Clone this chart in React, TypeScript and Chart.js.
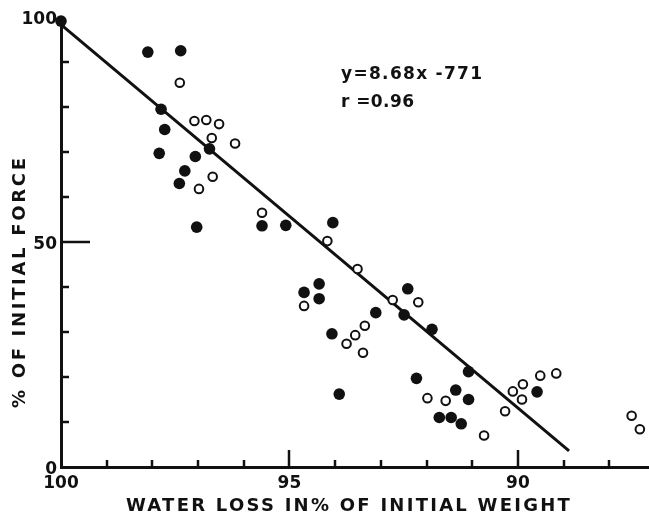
import React, { useEffect, useRef } from 'react';
import { Chart, registerables } from 'chart.js';

Chart.register(...registerables);

// ---- data ----
const FILLED_X = [100, 98.1, 97.38, 97.81, 97.73, 96.75, 97.85, 97.06, 97.29, 97.41, 97.03, 95.6, 95.08, 94.05, 94.68, 94.35, 94.35, 94.07, 92.41, 93.11, 92.49, 91.88, 91.08, 92.22, 93.91, 91.36, 91.08, 91.72, 91.46, 91.24, 89.58];
const FILLED_Y = [99.1, 92.2, 92.5, 79.5, 75.0, 70.7, 69.7, 69.0, 65.8, 63.0, 53.3, 53.6, 53.7, 54.3, 38.8, 40.7, 37.4, 29.6, 39.6, 34.3, 33.8, 30.6, 21.2, 19.7, 16.2, 17.1, 15.0, 11.0, 11.0, 9.6, 16.7];
const OPEN_X = [97.4, 97.08, 96.82, 96.54, 96.7, 96.19, 96.68, 96.98, 95.6, 94.17, 94.68, 93.51, 92.74, 92.18, 93.35, 93.56, 93.75, 93.39, 91.98, 91.58, 90.74, 90.28, 90.11, 89.89, 89.91, 89.51, 89.16, 87.51, 87.33];
const OPEN_Y = [85.4, 76.9, 77.1, 76.2, 73.1, 71.9, 64.5, 61.8, 56.5, 50.2, 35.8, 44.0, 37.1, 36.6, 31.4, 29.3, 27.4, 25.4, 15.3, 14.7, 7.0, 12.4, 16.8, 18.4, 15.0, 20.3, 20.8, 11.4, 8.4];
const FIT_X = [100, 88.88];
const FIT_Y = [98.3, 3.6];

const X_TICKS = [100, 95, 90];
const Y_TICKS = [0, 50, 100];
const X_MINOR = [99, 98, 97, 96, 95, 94, 93, 92, 91, 90, 89, 88];
const Y_MINOR = [10, 20, 30, 40, 50, 60, 70, 80, 90];
const X_MAJOR = [95, 90];
const Y_MAJOR = [50];

const EQUATION = 'y=8.68x -771';
const R_TEXT = 'r =0.96';
const ANNOT_X = 93.87;
const ANNOT_Y = [87.3, 80.9];
const X_TITLE = 'WATER LOSS IN% OF INITIAL WEIGHT';
const Y_TITLE = '% OF INITIAL FORCE';

const X_MIN = 87.13;
const X_MAX = 100;
const Y_MIN = 0;
const Y_MAX = 100;

const INK = '#111111';
const FONT = '"DejaVu Sans", "Liberation Sans", sans-serif';

function drawSpaced(ctx: CanvasRenderingContext2D, text: string, left: number, cy: number, width: number) {
  (ctx as any).letterSpacing = '0px';
  const w = ctx.measureText(text).width;
  const s = Math.max(0, (width - w) / (text.length - 1));
  (ctx as any).letterSpacing = s.toFixed(2) + 'px';
  ctx.textAlign = 'left';
  ctx.textBaseline = 'middle';
  ctx.fillText(text, left, cy);
  (ctx as any).letterSpacing = '0px';
}

const decorPlugin = {
  id: 'decor',
  afterDraw(chart: any) {
    const { ctx, chartArea } = chart;
    const xs = chart.scales.x;
    const ys = chart.scales.y;
    ctx.save();
    ctx.strokeStyle = INK;
    ctx.lineWidth = 2.5;
    X_MINOR.forEach((v) => {
      const px = Math.round(xs.getPixelForValue(v));
      const len = X_MAJOR.includes(v) ? 17 : 7;
      ctx.beginPath();
      ctx.moveTo(px, chartArea.bottom);
      ctx.lineTo(px, chartArea.bottom - len);
      ctx.stroke();
    });
    Y_MINOR.forEach((v) => {
      const py = Math.round(ys.getPixelForValue(v));
      const len = Y_MAJOR.includes(v) ? 29 : 8;
      ctx.beginPath();
      ctx.moveTo(chartArea.left, py);
      ctx.lineTo(chartArea.left + len, py);
      ctx.stroke();
    });

    ctx.fillStyle = INK;
    ctx.font = `bold 17px ${FONT}`;
    const ax = xs.getPixelForValue(ANNOT_X);
    drawSpaced(ctx, EQUATION, ax, ys.getPixelForValue(ANNOT_Y[0]), 141);
    drawSpaced(ctx, R_TEXT, ax, ys.getPixelForValue(ANNOT_Y[1]), 73);

    ctx.font = `bold 18px ${FONT}`;
    drawSpaced(ctx, X_TITLE, 126, 506, 444);

    ctx.translate(20, 283);
    ctx.rotate(-Math.PI / 2);
    drawSpaced(ctx, Y_TITLE, -125, 0, 250);
    ctx.restore();
  },
};

export default function App() {
  const ref = useRef<HTMLCanvasElement | null>(null);

  useEffect(() => {
    if (!ref.current) return;
    const filled = FILLED_X.map((x, i) => ({ x, y: FILLED_Y[i] }));
    const open = OPEN_X.map((x, i) => ({ x, y: OPEN_Y[i] }));
    const fit = FIT_X.map((x, i) => ({ x, y: FIT_Y[i] }));
    const tickFont = { family: FONT, size: 17, weight: 'bold' as const };

    const chart = new Chart(ref.current, {
      type: 'scatter',
      data: {
        datasets: [
          {
            label: 'fit',
            data: fit,
            showLine: true,
            borderColor: INK,
            borderWidth: 3,
            pointRadius: 0,
            order: 3,
            clip: false,
          } as any,
          {
            label: 'open',
            data: open,
            pointRadius: 4.3,
            borderWidth: 2,
            borderColor: INK,
            backgroundColor: '#ffffff',
            order: 2,
            clip: false,
          } as any,
          {
            label: 'filled',
            data: filled,
            pointRadius: 5.8,
            borderWidth: 0,
            backgroundColor: INK,
            order: 1,
            clip: false,
          } as any,
        ],
      },
      options: {
        animation: false,
        responsive: false,
        layout: { autoPadding: false, padding: { top: 17, left: 0, right: 0, bottom: 0 } },
        plugins: {
          legend: { display: false },
          tooltip: { enabled: false },
        },
        scales: {
          x: {
            type: 'linear',
            reverse: true,
            min: X_MIN,
            max: X_MAX,
            position: 'bottom',
            border: { display: true, color: INK, width: 3 },
            grid: { display: true, drawOnChartArea: false, drawTicks: false },
            afterBuildTicks: (scale: any) => {
              scale.ticks = X_TICKS.map((v) => ({ value: v }));
            },
            afterFit: (scale: any) => {
              scale.height = 49;
            },
            ticks: {
              color: INK,
              font: tickFont,
              padding: 6,
              maxRotation: 0,
              autoSkip: false,
            },
          },
          y: {
            type: 'linear',
            min: Y_MIN,
            max: Y_MAX,
            border: { display: true, color: INK, width: 3 },
            grid: { display: true, drawOnChartArea: false, drawTicks: false },
            afterBuildTicks: (scale: any) => {
              scale.ticks = Y_TICKS.map((v) => ({ value: v }));
            },
            afterFit: (scale: any) => {
              scale.width = 61;
            },
            ticks: {
              color: INK,
              font: tickFont,
              padding: 4,
              labelOffset: 3,
              autoSkip: false,
            },
          },
        },
      } as any,
      plugins: [decorPlugin],
    });
    return () => chart.destroy();
  }, []);

  return (
    <div style={{ position: 'fixed', left: 0, top: 0, width: 649, height: 516, background: '#fff' }}>
      <canvas ref={ref} width={649} height={516} style={{ display: 'block' }} />
    </div>
  );
}
